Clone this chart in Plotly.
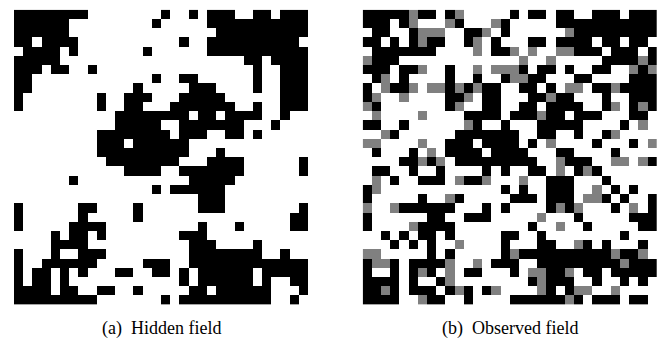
import plotly.graph_objects as go

# '#' = black (1), '+' = gray (0.5), '.' = white (0); rows listed top to bottom, 32 columns each
hidden_rows = [
    "######## ........ #..#.### ..##.###",
    "######.. .......# .....### ########",
    "######.. ........ ......## ########",
    "##.####. ........ ..#..### #######.",
    ".####.#. ......#. .....### ########",
    "#####... ........ ........ .##.####",
    "###.##.. #....... ........ ..#..###",
    "##...... .......# ..##.... ..#..###",
    "##...... .....#.. ...###.. ..#..###",
    "#....... .#..###. ..#####. .....###",
    "#....... .#..##.. .####### ..#..###",
    "........ ...##### ###.##.# ###..#..",
    "........ ...##### ..###### #...#...",
    "........ .####### #.###..# #.#.....",
    "........ .###.### ###..... ........",
    "........ .####### ###...#. ........",
    "........ ..###### ##...### #......#",
    "........ ....#### ..###### #......#",
    "......#. ........ ...##### ........",
    "........ .......# .######. ........",
    "........ ........ ....###. ........",
    "#......# #....#.. ....###. .......#",
    "#......# .....#.. ........ ......##",
    "#.....## ##...... ....#... #.....##",
    "....#.## .#...... ..###... ........",
    "....#### ........ ...###.. ..#.....",
    "#...#..# ##...... ...##### ###..#..",
    "#..##### #.....## #..##### ########",
    "#.##.#.# ...##..# #.#.#### ##.#####",
    "#.##.#.. ........ ..#.#### ##.#..##",
    "####.##. .##..#.. ...##.## ####...#",
    "######## #....... #.###### ####..#.",
]

observed_rows = [
    "#####+## .#+..... #.##.##. .###.###",
    "###.#+.. .+#...+# .....### ########",
    ".##..#++ +..##+.# ......+# ########",
    "##.#.#+# #..#+.#. ..##.### #.##.##.",
    ".####### ....+.## +.+..++# ##.###.#",
    "+###.... ........ .+..+... ..####+#",
    "###.##+. .#..+.++ +#.##.#. .##..+#+",
    ".#+.#... .#..#..# ++##...# #....###",
    "#.+##+.+ +#+#+##. .##.#.++ .##+####",
    "#+..+... .##+.##. ..##+##. ..#..###",
    "+#...... .#+..##. .##.#### ..#+.#+#",
    ".+....+. ...####. ###+##.# ##...##.",
    "##..#... ...+#..# ...##### ....#.+.",
    "..+#.... ..###### #..##..# ..#+....",
    "++....+. .###.### #.#.+... .#...#.+",
    ".#...#.+ .####.## ##...##. ...#....",
    "....##+# +.###### ###..+## #..++.+#",
    ".##..#.. #....#.# ..##.+.# +#......",
    ".+.#..## #.+##+.. .+..###. ..#.....",
    "#+...... .......# .#..###. .+.#.#..",
    "#.....#. .+#..... ###.###. ++#.#..#",
    "+..+#### ##...#.# ....#+#+ ...#.+.#",
    "#......# #..###.. ...+...# .....###",
    "#....+## ##...... ..#..+.. #.....##",
    "..#.#.## .#.....# #..#.... ....#...",
    "...#.#.# ..+....# ...##..+ #.#...#.",
    "++.....# .#.....# +####### ###+##+.",
    "#++#.### #+..+.## #..##### ####+###",
    "#..#.#+# .+.##... #.++##+. ##.#####",
    "####.#.. #+...... ..#+###. .#..#.#.",
    "##+#.### .#+#.#+. ...+#.#+ +..+....",
    "####..+# #..#.... ######+# .###.##.",
]

caption_labels = ["(a)", "(b)"]
caption_texts = ["Hidden field", "Observed field"]

symbol_value = {"#": 1.0, "+": 0.5, ".": 0.0}


def to_matrix(rows):
    return [[symbol_value[ch] for ch in r.replace(" ", "")] for r in rows]


W, H = 663, 341
left_px = (14.0, 308.3)
right_px = (362.7, 657.0)
top_px, bottom_px = 9.7, 304.5

colorscale = [[0.0, "#ffffff"], [0.5, "#808080"], [1.0, "#000000"]]

fig = go.Figure()
for i, rows in enumerate([hidden_rows, observed_rows]):
    z = to_matrix(rows)
    fig.add_trace(go.Heatmap(
        z=z, zmin=0, zmax=1, colorscale=colorscale, showscale=False,
        xaxis="x" if i == 0 else "x2", yaxis="y" if i == 0 else "y2",
        hoverinfo="skip",
    ))

ydom = [1 - bottom_px / H, 1 - top_px / H]
ax_common = dict(visible=False, showgrid=False, zeroline=False, fixedrange=True)
fig.update_layout(
    width=W, height=H,
    margin=dict(l=0, r=0, t=0, b=0),
    paper_bgcolor="white", plot_bgcolor="white",
    xaxis=dict(domain=[left_px[0] / W, left_px[1] / W], range=[-0.5, 31.5], **ax_common),
    yaxis=dict(domain=ydom, range=[31.5, -0.5], **ax_common),
    xaxis2=dict(domain=[right_px[0] / W, right_px[1] / W], range=[-0.5, 31.5], anchor="y2", **ax_common),
    yaxis2=dict(domain=ydom, range=[31.5, -0.5], anchor="x2", **ax_common),
    showlegend=False,
)

for px_range, lab, txt in zip([left_px, right_px], caption_labels, caption_texts):
    fig.add_annotation(
        x=(px_range[0] + px_range[1]) / 2 / W, y=1 - 328.5 / H,
        xref="paper", yref="paper", xanchor="center", yanchor="middle",
        text=lab + "\u00a0\u00a0" + txt, showarrow=False,
        font=dict(family="Liberation Serif", size=18, color="black"),
    )

fig.write_html("out.html")
